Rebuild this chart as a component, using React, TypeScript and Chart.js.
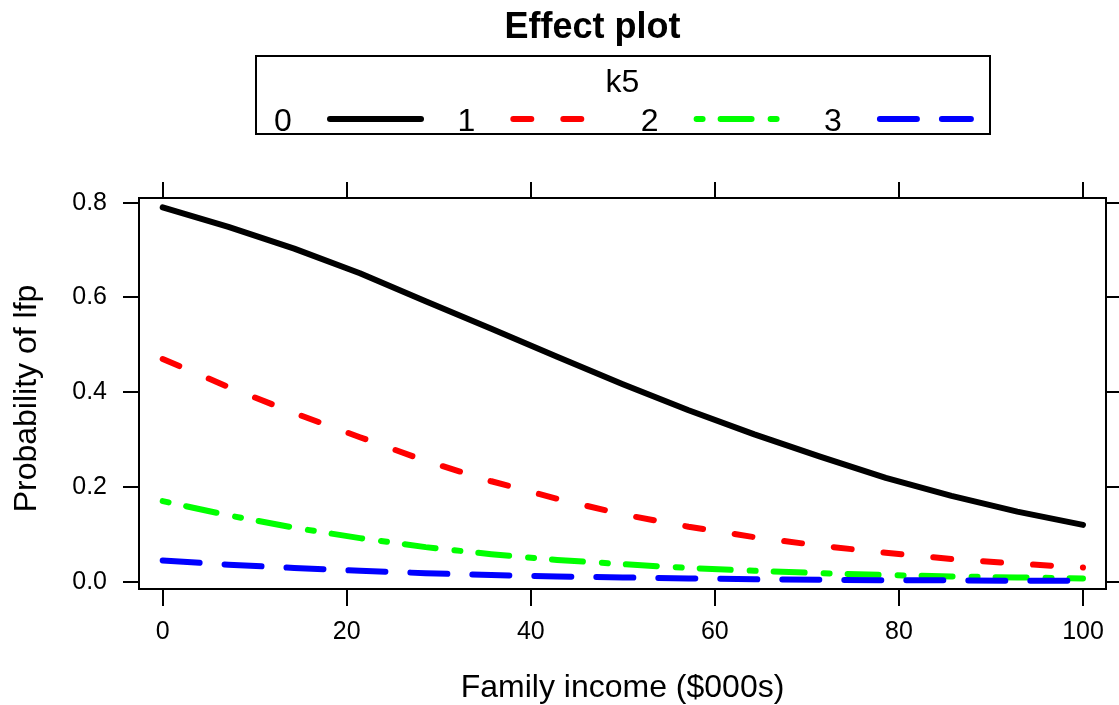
import React, { useEffect, useRef } from "react";
import { Chart, registerables } from "chart.js";

Chart.register(...registerables);

const TITLE = "Effect plot";
const LEGEND_TITLE = "k5";
const X_TITLE = "Family income ($000s)";
const Y_TITLE = "Probability of lfp";

const incomeValues = [0, 7.14, 14.29, 21.43, 28.57, 35.71, 42.86, 50, 57.14, 64.29, 71.43, 78.57, 85.71, 92.86, 100];
const k5Levels = ["0", "1", "2", "3"];
const probK5_0 = [0.790, 0.749, 0.703, 0.651, 0.592, 0.534, 0.475, 0.417, 0.362, 0.311, 0.264, 0.219, 0.181, 0.148, 0.120];
const probK5_1 = [0.470, 0.411, 0.356, 0.305, 0.255, 0.212, 0.175, 0.142, 0.116, 0.094, 0.076, 0.061, 0.048, 0.038, 0.030];
const probK5_2 = [0.170, 0.140, 0.114, 0.092, 0.073, 0.058, 0.046, 0.037, 0.029, 0.023, 0.018, 0.014, 0.011, 0.009, 0.007];
const probK5_3 = [0.045, 0.036, 0.029, 0.023, 0.018, 0.014, 0.011, 0.009, 0.007, 0.005, 0.004, 0.003, 0.003, 0.002, 0.002];
const seriesValues = [probK5_0, probK5_1, probK5_2, probK5_3];

const xTicks = [0, 20, 40, 60, 80, 100];
const yTicks = [0, 0.2, 0.4, 0.6, 0.8];

const colors = ["#000000", "#ff0000", "#00ff00", "#0000ff"];
const dashes: number[][] = [[], [18, 32], [6, 18, 31, 19], [37, 25]];

const FONT = '"Liberation Sans", Arial, Helvetica, sans-serif';

const decorPlugin = {
  id: "effectDecor",
  afterDraw(chart: any) {
    const ctx: CanvasRenderingContext2D = chart.ctx;
    const area = chart.chartArea;
    ctx.save();
    ctx.fillStyle = "#000";
    ctx.textBaseline = "alphabetic";

    // Title
    ctx.font = `bold 36px ${FONT}`;
    ctx.textAlign = "center";
    ctx.fillText(TITLE, 592.5, 38);

    // Legend box
    ctx.strokeStyle = "#000";
    ctx.lineWidth = 2;
    ctx.setLineDash([]);
    ctx.strokeRect(256, 56, 734, 78);
    ctx.font = `32px ${FONT}`;
    ctx.fillText(LEGEND_TITLE, 622.5, 92);

    k5Levels.forEach((lab, i) => {
      const lx = 283 + 183.3 * i;
      ctx.fillStyle = "#000";
      ctx.textAlign = "center";
      ctx.fillText(lab, lx, 131);
      const sx = 330 + 183.3 * i;
      ctx.beginPath();
      ctx.strokeStyle = colors[i];
      ctx.lineWidth = 6;
      ctx.lineCap = "round";
      ctx.setLineDash(dashes[i]);
      ctx.lineDashOffset = 0;
      ctx.moveTo(sx, 119);
      ctx.lineTo(sx + 91, 119);
      ctx.stroke();
    });
    ctx.setLineDash([]);

    // Axis titles
    ctx.fillStyle = "#000";
    ctx.font = `32px ${FONT}`;
    ctx.textAlign = "center";
    ctx.fillText(X_TITLE, (area.left + area.right) / 2, 697);

    ctx.translate(35.5, 398.5);
    ctx.rotate(-Math.PI / 2);
    ctx.fillText(Y_TITLE, 0, 0);
    ctx.restore();
  },
};

export default function App() {
  const canvasRef = useRef<HTMLCanvasElement | null>(null);

  useEffect(() => {
    const canvas = canvasRef.current;
    if (!canvas) return;
    const datasets = seriesValues.map((vals, i) => ({
      label: k5Levels[i],
      data: incomeValues.map((x, j) => ({ x, y: vals[j] })),
      borderColor: colors[i],
      backgroundColor: colors[i],
      borderWidth: 6,
      borderDash: dashes[i],
      borderCapStyle: "round" as const,
      borderJoinStyle: "round" as const,
      pointRadius: 0,
      tension: 0,
      fill: false,
      order: 3 - i,
    }));

    const tickFont = { size: 25, family: FONT };
    const chart = new Chart(canvas, {
      type: "line",
      data: { datasets },
      plugins: [decorPlugin],
      options: {
        animation: false,
        responsive: false,
        devicePixelRatio: 1,
        layout: { padding: { top: 182, left: 0, right: 0, bottom: 0 } },
        plugins: {
          legend: { display: false },
          title: { display: false },
          tooltip: { enabled: false },
        },
        scales: {
          x: {
            type: "linear",
            position: "bottom",
            min: -2.575,
            max: 102.5,
            afterBuildTicks: (s: any) => {
              s.ticks = xTicks.map((v) => ({ value: v }));
            },
            afterFit: (s: any) => {
              s.height = 116;
            },
            ticks: {
              font: tickFont,
              color: "#000",
              padding: 11,
              maxRotation: 0,
              autoSkip: false,
              callback: (v: any) => String(v),
            },
            grid: { drawOnChartArea: false, drawTicks: true, tickLength: 17, color: "#000", lineWidth: 2 },
            border: { display: true, color: "#000", width: 2 },
          },
          x2: {
            type: "linear",
            position: "top",
            min: -2.575,
            max: 102.5,
            afterBuildTicks: (s: any) => {
              s.ticks = xTicks.map((v) => ({ value: v }));
            },
            afterFit: (s: any) => {
              s.height = 16;
            },
            ticks: { display: false },
            grid: { drawOnChartArea: false, drawTicks: true, tickLength: 16, color: "#000", lineWidth: 2 },
            border: { display: true, color: "#000", width: 2 },
          },
          y: {
            type: "linear",
            position: "left",
            min: -0.0154,
            max: 0.8099,
            afterBuildTicks: (s: any) => {
              s.ticks = yTicks.map((v) => ({ value: v }));
            },
            afterFit: (s: any) => {
              s.width = 139;
            },
            ticks: {
              font: tickFont,
              color: "#000",
              padding: 16,
              autoSkip: false,
              callback: (v: any) => Number(v).toFixed(1),
            },
            grid: { drawOnChartArea: false, drawTicks: true, tickLength: 16, color: "#000", lineWidth: 2 },
            border: { display: true, color: "#000", width: 2 },
          },
          y2: {
            type: "linear",
            position: "right",
            min: -0.0154,
            max: 0.8099,
            afterBuildTicks: (s: any) => {
              s.ticks = yTicks.map((v) => ({ value: v }));
            },
            afterFit: (s: any) => {
              s.width = 13;
            },
            ticks: { display: false },
            grid: { drawOnChartArea: false, drawTicks: true, tickLength: 16, color: "#000", lineWidth: 2 },
            border: { display: true, color: "#000", width: 2 },
          },
        },
      } as any,
    });
    return () => chart.destroy();
  }, []);

  return (
    <div style={{ position: "absolute", left: 0, top: 0, width: 1119, height: 705, background: "#fff" }}>
      <canvas ref={canvasRef} width={1119} height={705} style={{ width: 1119, height: 705, display: "block" }} />
    </div>
  );
}
